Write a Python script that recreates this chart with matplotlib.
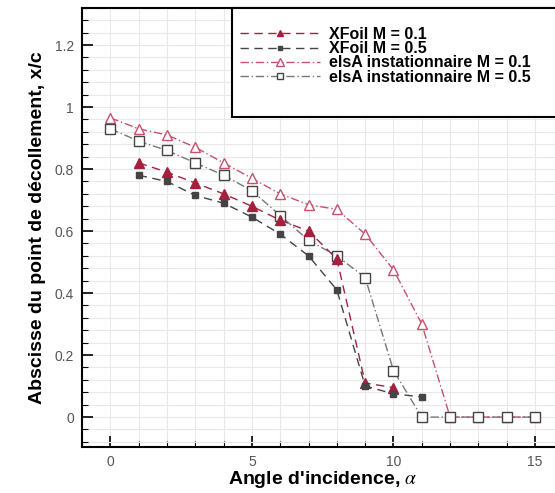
import matplotlib
matplotlib.use("Agg")
import matplotlib.pyplot as plt
from matplotlib.patches import Rectangle
from matplotlib.ticker import MultipleLocator

plt.rcParams['font.family'] = ['Liberation Sans', 'DejaVu Sans']
plt.rcParams['mathtext.fontset'] = 'stix'

# angle of attack (deg) and separation abscissa x/c
alpha_xf01 = [1, 2, 3, 4, 5, 6, 7, 8, 9, 10]
xc_xf01 = [0.82, 0.79, 0.755, 0.72, 0.68, 0.635, 0.60, 0.51, 0.11, 0.095]

alpha_xf05 = [1, 2, 3, 4, 5, 6, 7, 8, 9, 10, 11]
xc_xf05 = [0.78, 0.76, 0.715, 0.69, 0.645, 0.59, 0.52, 0.41, 0.10, 0.075, 0.065]

alpha_el01 = [0, 1, 2, 3, 4, 5, 6, 7, 8, 9, 10, 11, 12, 13, 14, 15]
xc_el01 = [0.965, 0.93, 0.91, 0.87, 0.82, 0.77, 0.72, 0.685, 0.67, 0.59, 0.475, 0.30,
           0.0, 0.0, 0.0, 0.0]

alpha_el05 = [0, 1, 2, 3, 4, 5, 6, 7, 8, 9, 10, 11, 12, 13, 14, 15]
xc_el05 = [0.93, 0.89, 0.86, 0.82, 0.78, 0.73, 0.65, 0.57, 0.52, 0.45, 0.15, 0.0,
           0.0, 0.0, 0.0, 0.0]

red = '#a3213f'
pink = '#c8506c'
dark = '#444444'
grey = '#777777'

fig = plt.figure(figsize=(5.55, 4.93), dpi=100)
ax = fig.add_axes([0.148, 0.093, 0.867, 0.891])

ax.plot(alpha_el01, xc_el01, color=pink, ls=(0, (6, 2, 1, 2)), lw=1.0,
        marker='^', ms=7.5, mfc='white', mec=pink, mew=1.0,
        label='elsA instationnaire M = 0.1')
ax.plot(alpha_el05, xc_el05, color=grey, ls=(0, (6, 2, 1, 2)), lw=1.0,
        marker='s', ms=6.5, mfc='white', mec=dark, mew=1.0,
        label='elsA instationnaire M = 0.5')
ax.plot(alpha_xf01, xc_xf01, color=red, ls=(0, (6, 4)), lw=1.0,
        marker='^', ms=6.5, mfc=red, mec=red, label='XFoil M = 0.1')
ax.plot(alpha_xf05, xc_xf05, color=dark, ls=(0, (6, 4)), lw=1.0,
        marker='s', ms=5, mfc=dark, mec=dark, label='XFoil M = 0.5')

ax.set_xlim(-1, 16)
ax.set_ylim(-0.097, 1.32)
ax.xaxis.set_major_locator(MultipleLocator(5))
ax.xaxis.set_minor_locator(MultipleLocator(1))
ax.yaxis.set_minor_locator(MultipleLocator(0.04))
ax.set_yticks([0, 0.2, 0.4, 0.6, 0.8, 1.0, 1.2])
ax.set_yticklabels(['0', '0.2', '0.4', '0.6', '0.8', '1', '1.2'])

ax.grid(True, which='both', color='#e8e8e8', lw=0.8)
ax.set_axisbelow(True)
ax.tick_params(which='major', direction='in', length=8, width=1.2, labelsize=10,
               labelcolor='#555555', top=False, right=False, pad=6)
ax.tick_params(which='minor', direction='in', length=4, width=0.8, top=False, right=False)
for s in ax.spines.values():
    s.set_linewidth(1.5)

ax.set_xlabel(r"Angle d'incidence, $\alpha$", fontsize=14, fontweight='bold', labelpad=0)
ax.set_ylabel('Abscisse du point de décollement, x/c', fontsize=14, fontweight='bold',
              labelpad=6)

# legend box (cut at the right edge like the original)
fig.patches.append(Rectangle((232 / 555, 1 - 117 / 493), 0.6, 109 / 493,
                             transform=fig.transFigure, fill=True, facecolor='white',
                             edgecolor='black', lw=1.5, zorder=3))

h, l = ax.get_legend_handles_labels()
order = [2, 3, 0, 1]
leg = fig.legend([h[i] for i in order], [l[i] for i in order], loc='upper left',
                 bbox_to_anchor=(240 / 555, 1 - 27 / 493), frameon=False,
                 prop={'weight': 'bold', 'size': 11.5}, handlelength=5.0, markerscale=0.7,
                 handletextpad=0.55, borderpad=0, labelspacing=-0.05, borderaxespad=0)
leg.set_zorder(4)

fig.savefig('out.png', dpi=100)
